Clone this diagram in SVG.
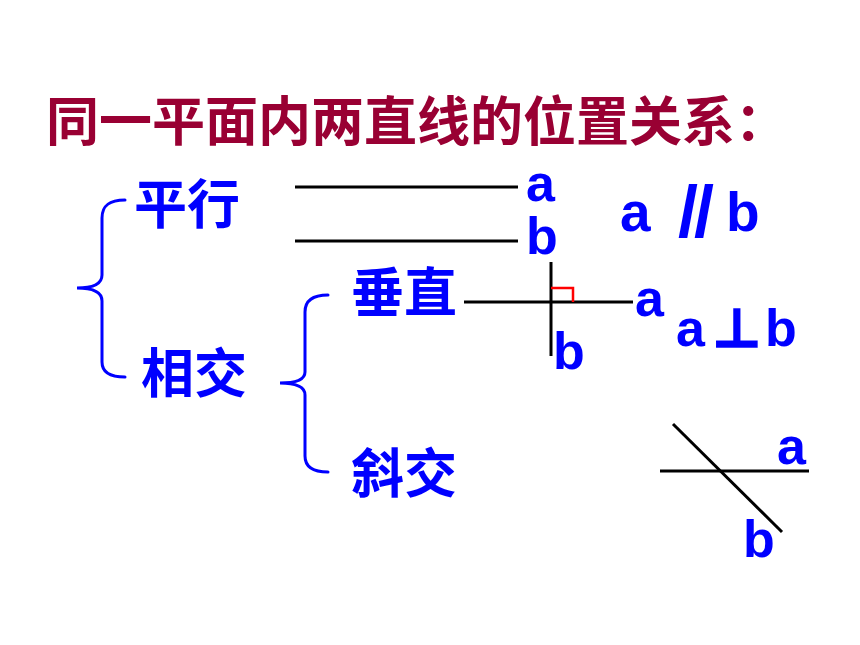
<svg xmlns="http://www.w3.org/2000/svg" width="860" height="645" viewBox="0 0 860 645">
<style>
.cjk{font-family:"Noto Sans CJK SC","Noto Sans",sans-serif;font-weight:bold}
.title{fill:#990033;font-size:53px}
.blue{fill:#0000FF}
.lbl{font-family:"Liberation Sans",Arial,sans-serif;font-weight:bold;fill:#0000FF}
.brace{fill:none;stroke:#0000FF;stroke-width:3;stroke-linecap:round}
.ln{stroke:#000;stroke-width:3;fill:none}
</style>
<rect width="860" height="645" fill="#fff"/>
<g id="title"><text class="cjk title" x="46" y="141">同一平面内两直线的位置关系：</text></g>
<g id="connectors">
<path class="brace" d="M125,200 C110,200 102,205 102,218 L102,275 C102,283 95,288 77,288 C95,288 102,293 102,301 L102,362 C102,372 110,377 125,377"/>
<path class="brace" d="M328,295 C313,295 305,300 305,312 L305,372 C305,379 298,383 280,383 C298,383 305,388 305,395 L305,456 C305,467 313,472 328,472"/>
</g>
<g id="node-parallel"><text class="cjk blue" x="134" y="224" font-size="53">平行</text></g>
<g id="node-intersect"><text class="cjk blue" x="141" y="393" font-size="53">相交</text></g>
<g id="node-perp"><text class="cjk blue" x="351" y="312" font-size="53">垂直</text></g>
<g id="node-oblique"><text class="cjk blue" x="351" y="493" font-size="53">斜交</text></g>
<g id="fig-parallel">
<line class="ln" x1="295" y1="187" x2="518" y2="187"/>
<line class="ln" x1="295" y1="241" x2="518" y2="241"/>
<text class="lbl" x="526" y="201" font-size="52">a</text>
<text class="lbl" x="526" y="254" font-size="52">b</text>
<text class="lbl" x="620" y="231" font-size="55">a</text>
<text class="lbl" x="678" y="237" font-size="72" letter-spacing="-4">//</text>
<text class="lbl" x="726" y="231" font-size="55">b</text>
</g>
<g id="fig-perp">
<line class="ln" x1="464" y1="302" x2="633" y2="302"/>
<line class="ln" x1="551" y1="262" x2="551" y2="356"/>
<polyline points="551,288 573,288 573,302" fill="none" stroke="#FF0000" stroke-width="2.5"/>
<text class="lbl" x="635" y="316" font-size="52">a</text>
<text class="lbl" x="553" y="369" font-size="52">b</text>
<text class="lbl" x="676" y="346" font-size="52">a</text>
<text x="712" y="347" font-family="DejaVu Sans, sans-serif" font-weight="bold" font-size="54" fill="#0000FF" stroke="#0000FF" stroke-width="1.5">⊥</text>
<text class="lbl" x="765" y="346" font-size="52">b</text>
</g>
<g id="fig-oblique">
<line class="ln" x1="660" y1="471" x2="809" y2="471"/>
<line class="ln" x1="673" y1="424" x2="782" y2="532"/>
<text class="lbl" x="777" y="464" font-size="52">a</text>
<text class="lbl" x="743" y="557" font-size="52">b</text>
</g>
</svg>
